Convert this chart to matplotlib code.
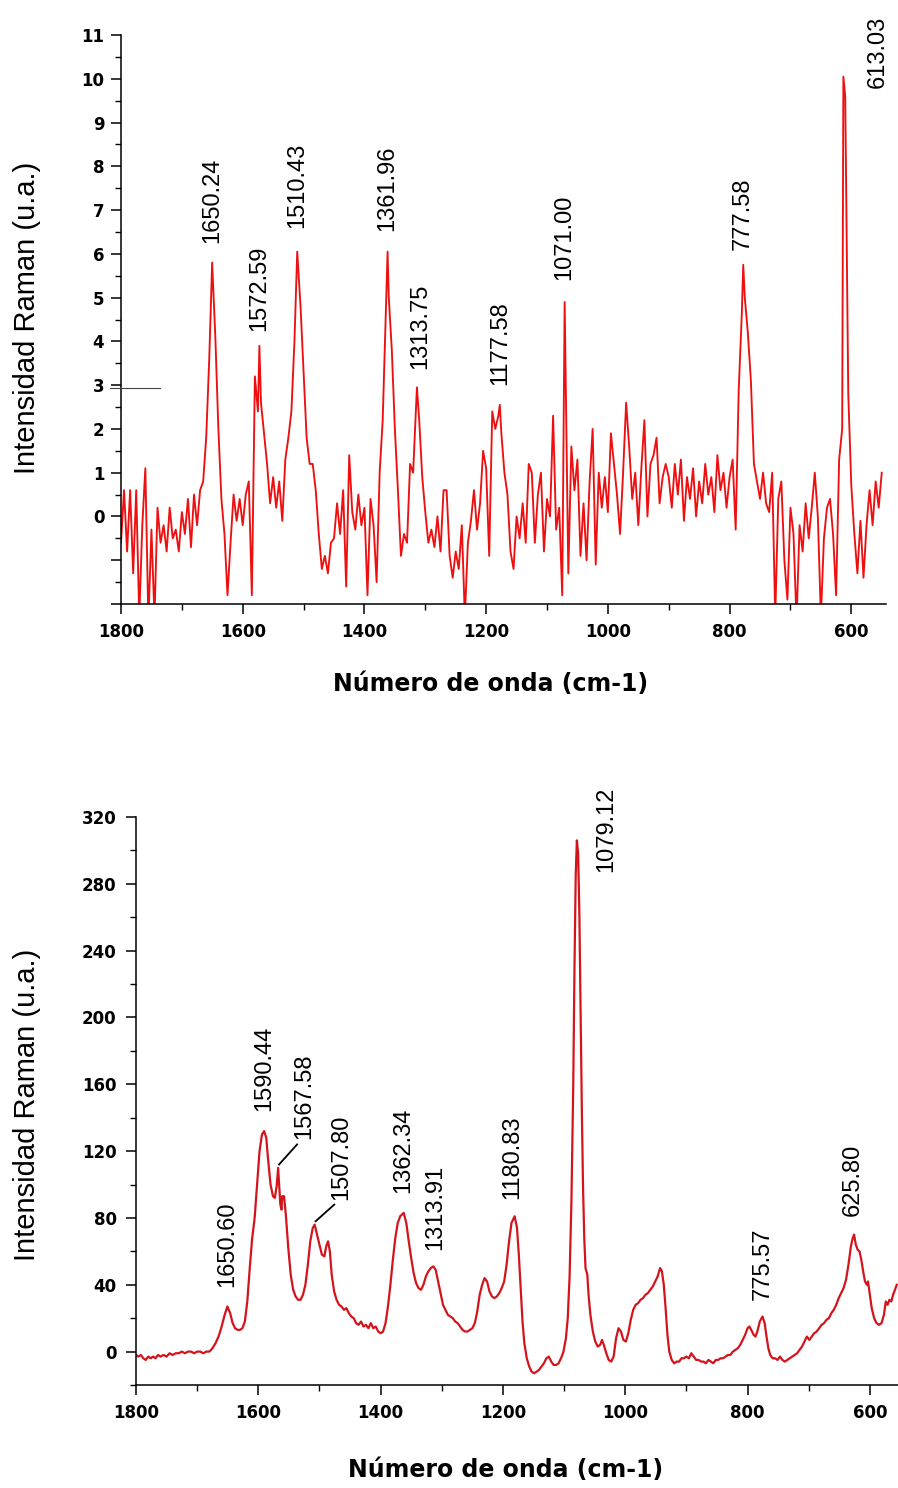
import numpy as np
import matplotlib
matplotlib.use("Agg")
import matplotlib.pyplot as plt
from matplotlib.ticker import FixedLocator, MultipleLocator, FuncFormatter
from matplotlib.lines import Line2D

# ---------------- data ----------------
# Upper spectrum: intensity sampled every 5 cm-1 from 1800 down to 550 cm-1
top_wn_start, top_wn_stop, top_wn_step = 1800, 550, 5
top_intensity = [
    -0.6, 0.6, -0.8, 0.6, -1.3, 0.6, -2.3, -0.2, 1.1, -2.4,    # 1800-1755
    -0.3, -2.3, 0.2, -0.6, -0.2, -0.8, 0.2, -0.5, -0.3, -0.8,  # 1750-1705
    0.1, -0.4, 0.4, -0.7, 0.5, -0.2, 0.6, 0.8, 1.8, 3.6,       # 1700-1655
    5.0, 4.1, 2.0, 0.4, -0.4, -1.8, -0.6, 0.5, -0.1, 0.4,      # 1650-1605
    -0.2, 0.5, 0.8, -1.8, 3.2, 2.4, 2.6, 1.9, 1.2, 0.3,        # 1600-1555
    0.9, 0.2, 0.8, -0.1, 1.3, 1.8, 2.4, 4.0, 5.5, 4.8,         # 1550-1505
    3.3, 1.8, 1.2, 1.2, 0.6, -0.4, -1.2, -0.9, -1.3, -0.6,     # 1500-1455
    -0.5, 0.3, -0.4, 0.6, -1.6, 1.4, 0.1, -0.3, 0.5, -0.2,     # 1450-1405
    0.2, -1.8, 0.4, -0.2, -1.5, 1.0, 2.2, 4.6, 5.0, 3.8,       # 1400-1355
    2.0, 0.6, -0.9, -0.4, -0.6, 1.2, 1.0, 2.5, 2.2, 0.9,       # 1350-1305
    0.1, -0.6, -0.3, -0.7, 0.0, -0.8, 0.6, 0.6, -0.9, -1.4,    # 1300-1255
    -0.8, -1.2, -0.2, -2.3, -0.6, -0.1, 0.6, -0.3, 0.3, 1.5,   # 1250-1205
    1.1, -0.9, 2.4, 2.0, 2.3, 1.9, 1.0, 0.5, -0.8, -1.2,       # 1200-1155
    0.0, -0.5, 0.3, -0.6, 1.2, 1.0, -0.6, 0.5, 1.0, -0.8,      # 1150-1105
    0.4, 0.0, 2.3, -0.3, 0.2, -1.8, 0.5, -1.3, 1.6, 0.6,       # 1100-1055
    1.3, -0.9, 0.3, -1.0, 0.8, 2.0, -1.1, 1.0, 0.2, 0.9,       # 1050-1005
    0.1, 1.9, 1.2, 0.5, -0.4, 1.0, 2.6, 1.6, 0.4, 1.0,         # 1000-955
    -0.2, 1.1, 2.2, 0.0, 1.2, 1.4, 1.8, 0.3, 0.9, 1.2,         # 950-905
    0.9, 0.2, 1.2, 0.5, 1.3, -0.1, 0.9, 0.4, 1.1, 0.0,         # 900-855
    0.8, 0.3, 1.2, 0.5, 0.9, 0.1, 1.4, 0.6, 1.0, 0.2,          # 850-805
    0.9, 1.3, -0.3, 2.9, 4.6, 5.0, 4.2, 3.1, 1.2, 0.8,         # 800-755
    0.4, 1.0, 0.3, 0.1, 1.0, -2.3, 0.4, 0.8, -1.0, -1.9,       # 750-705
    0.2, -0.4, -2.4, -0.2, -0.8, 0.3, -0.5, 0.2, 1.0, 0.0,     # 700-655
    -2.3, -0.5, 0.2, 0.4, -0.4, -1.8, 1.3, 2.0, 9.6, 2.8,      # 650-605
    0.7, -0.4, -1.3, -0.1, -1.4, -0.2, 0.6, -0.2, 0.8, 0.2,    # 600-555
    1.0,                                                       # 550
]
top_peak_wn = [1650.24, 1572.59, 1510.43, 1361.96, 1313.75, 1177.58, 1071.00, 777.58, 613.03]
top_peak_int = [5.80, 3.90, 6.05, 6.05, 2.95, 2.55, 4.90, 5.75, 10.05]

# Lower spectrum
bottom_wn = [
    1800, 1796, 1792, 1788, 1784, 1780, 1776, 1772, 1768, 1764,
    1760, 1755, 1750, 1745, 1740, 1735, 1730, 1725, 1720, 1715,
    1710, 1705, 1700, 1695, 1690, 1685, 1680, 1675, 1670, 1665,
    1660, 1655, 1646, 1642, 1638, 1634, 1630, 1626, 1622, 1618,
    1614, 1610, 1606, 1602, 1598, 1594, 1587, 1584, 1580, 1576,
    1573, 1570, 1566, 1564, 1562, 1561, 1558, 1555, 1551, 1547,
    1543, 1539, 1535, 1531, 1527, 1523, 1519, 1515, 1511, 1504,
    1500, 1496, 1492, 1489, 1486, 1483, 1480, 1476, 1472, 1468,
    1464, 1460, 1456, 1452, 1448, 1444, 1440, 1436, 1432, 1428,
    1424, 1420, 1416, 1412, 1408, 1404, 1400, 1396, 1392, 1388,
    1384, 1380, 1376, 1372, 1368, 1358, 1354, 1350, 1346, 1342,
    1338, 1334, 1330, 1326, 1322, 1318, 1310, 1306, 1302, 1298,
    1294, 1290, 1286, 1282, 1278, 1274, 1270, 1266, 1262, 1258,
    1254, 1250, 1246, 1242, 1238, 1234, 1230, 1226, 1222, 1218,
    1214, 1210, 1206, 1202, 1198, 1194, 1190, 1186, 1177, 1174,
    1171, 1168, 1165, 1161, 1157, 1153, 1149, 1145, 1141, 1137,
    1133, 1129, 1125, 1121, 1117, 1113, 1109, 1105, 1101, 1097,
    1094, 1091, 1088, 1085, 1083, 1081, 1077, 1075, 1073, 1071,
    1069, 1067, 1065, 1062, 1060, 1057, 1053, 1049, 1045, 1041,
    1038, 1035, 1031, 1027, 1023, 1019, 1015, 1011, 1007, 1003,
    999, 995, 991, 987, 983, 979, 975, 971, 967, 963,
    959, 955, 951, 947, 943, 940, 937, 934, 931, 928,
    924, 920, 916, 912, 908, 904, 900, 896, 892, 888,
    884, 880, 876, 872, 868, 864, 860, 856, 852, 848,
    844, 840, 836, 832, 828, 824, 820, 816, 812, 808,
    804, 800, 797, 794, 790, 787, 784, 780, 772, 769,
    766, 763, 759, 755, 751, 747, 743, 739, 735, 731,
    727, 723, 719, 715, 711, 707, 703, 699, 695, 691,
    687, 683, 679, 675, 671, 667, 663, 659, 655, 651,
    647, 643, 639, 635, 631, 628, 623, 620, 617, 614,
    611, 608, 605, 603, 600, 597, 593, 589, 585, 581,
    577, 574, 571, 568, 565, 562, 558, 556,
]
bottom_int = [
    -2, -3, -2, -4, -5, -3, -4, -3, -4, -2,
    -3, -2, -3, -1, -2, -1, -1, 0, -1, 0,
    0, -1, 0, 0, -1, 0, 0, 2, 5, 9,
    15, 22, 23, 17, 14, 13, 13, 14, 18, 30,
    50, 68, 80, 100, 120, 130, 128, 115, 100, 93,
    92, 99, 100, 88, 85, 93, 93, 82, 62, 46,
    37, 33, 31, 31, 34, 40, 52, 66, 74, 70,
    64, 58, 57, 63, 66, 60, 46, 36, 31, 28,
    27, 25, 26, 23, 21, 20, 17, 16, 18, 15,
    16, 14, 17, 14, 15, 12, 11, 12, 17, 27,
    40, 55, 68, 77, 81, 77, 66, 56, 47, 41,
    38, 37, 40, 45, 48, 50, 49, 42, 35, 28,
    25, 22, 21, 20, 18, 17, 15, 13, 12, 12,
    13, 14, 17, 24, 34, 40, 44, 42, 36, 33,
    32, 33, 35, 38, 42, 52, 66, 77, 74, 58,
    38, 18, 5, -4, -9, -12, -13, -12, -11, -9,
    -7, -4, -3, -6, -8, -8, -7, -4, 0, 8,
    20, 45, 90, 160, 230, 285, 298, 262, 205, 145,
    98, 68, 50, 46, 34, 22, 12, 6, 3, 4,
    7, 4, -1, -5, -6, -3, 8, 14, 12, 7,
    6, 11, 19, 25, 28, 29, 31, 32, 34, 35,
    37, 39, 42, 45, 50, 48, 40, 26, 10, 0,
    -5, -7, -6, -6, -4, -4, -3, -4, -1, -3,
    -5, -5, -6, -6, -7, -5, -6, -7, -5, -5,
    -4, -4, -3, -2, -2, 0, 1, 2, 4, 7,
    10, 14, 15, 13, 10, 9, 12, 18, 17, 9,
    2, -2, -4, -4, -5, -3, -5, -6, -5, -4,
    -3, -2, -1, 1, 3, 6, 9, 7, 9, 11,
    12, 14, 16, 17, 19, 20, 23, 25, 28, 32,
    35, 38, 43, 52, 63, 68, 64, 61, 60, 55,
    48, 42, 40, 42, 34, 26, 20, 17, 16, 17,
    22, 30, 28, 31, 30, 34, 38, 40,
]
bottom_peak_wn = [1650.60, 1590.44, 1567.58, 1507.80, 1362.34, 1313.91, 1180.83, 1079.12, 775.57, 625.80]
bottom_peak_int = [27, 132, 110, 76, 83, 51, 81, 306, 21, 70]

# ---------------- label layout (shift in cm-1, gap above the peak) ----------------
top_label_dx = [0, 0, 0, 0, -5, 0, 0, 0, -57]
top_label_gap = [0.45, 0.33, 0.55, 0.48, 0.41, 0.45, 0.50, 0.34, -0.25]
bottom_label_dx = [0, 0, -42, -43, 0, -3, 4, -48, 0, 2]
bottom_label_gap = [11.5, 12, 17, 15, 12, 10, 10.5, -19, 10, 11]
bottom_leaders = [False, False, True, True, False, False, False, False, False, False]


def merge_peaks(wn, inten, pk_wn, pk_int, gap):
    wn = np.asarray(wn, float)
    inten = np.asarray(inten, float)
    pk_wn = np.asarray(pk_wn, float)
    pk_int = np.asarray(pk_int, float)
    far = np.all(np.abs(wn[:, None] - pk_wn[None, :]) > gap, axis=1)
    x = np.concatenate([wn[far], pk_wn])
    y = np.concatenate([inten[far], pk_int])
    order = np.argsort(-x)
    return x[order], y[order]


top_grid = np.arange(top_wn_start, top_wn_stop - 1, -top_wn_step)
top_x, top_y = merge_peaks(top_grid, top_intensity, top_peak_wn, top_peak_int, 1.5)
bot_x, bot_y = merge_peaks(bottom_wn, bottom_int, bottom_peak_wn, bottom_peak_int, 0.5)

# ---------------- figure ----------------
W, H = 898, 1488
fig = plt.figure(figsize=(W / 100, H / 100), dpi=100)
fig.patch.set_facecolor("white")

ax1 = fig.add_axes([121 / W, 1 - 604 / H, (886 - 121) / W, (604 - 35) / H])
ax2 = fig.add_axes([136 / W, 1 - 1385 / H, (898 - 136) / W, (1385 - 817) / H])

tick_font = dict(family="DejaVu Sans", weight="bold", size=12)
peak_font = dict(family="Liberation Sans", size=17)

for ax in (ax1, ax2):
    for side in ("top", "right"):
        ax.spines[side].set_visible(False)
    for side in ("left", "bottom"):
        ax.spines[side].set_linewidth(1.1)
    ax.set_facecolor("white")
    ax.xaxis.set_major_locator(MultipleLocator(200))
    ax.xaxis.set_minor_locator(MultipleLocator(100))
    ax.tick_params(which="major", direction="out", length=7, width=1.1)
    ax.tick_params(which="minor", direction="out", length=4, width=1.0)
    ax.tick_params(axis="x", which="major", pad=7)

# upper panel
ax1.plot(top_x, top_y, color="#ee1010", lw=1.35)
ax1.set_xlim(1800, 543)
ax1.set_ylim(-2, 11)
ax1.yaxis.set_major_locator(FixedLocator(np.arange(-2, 12)))
ax1.yaxis.set_minor_locator(MultipleLocator(0.5))
ax1.yaxis.set_major_formatter(FuncFormatter(lambda v, p: "" if v < 0 else f"{v:.0f}"))
ax1.tick_params(axis="y", which="major", pad=5)

for wn, val, dx, gap in zip(top_peak_wn, top_peak_int, top_label_dx, top_label_gap):
    ax1.text(wn + dx, val + gap, f"{wn:.2f}", rotation=90, ha="center", va="bottom",
             **peak_font)

# short stray rule at the 3 mark
fig.add_artist(Line2D([110 / W, 160 / W], [1 - 388 / H, 1 - 388 / H],
                      transform=fig.transFigure, color="#444444", lw=0.8))

# lower panel
ax2.plot(bot_x, bot_y, color="#d4141c", lw=1.6)
ax2.set_xlim(1800, 554)
ax2.set_ylim(-20, 320)
ax2.yaxis.set_major_locator(FixedLocator(np.arange(0, 321, 40)))
ax2.yaxis.set_minor_locator(FixedLocator(np.arange(-20, 321, 20)))
ax2.tick_params(axis="y", which="major", pad=7)

for wn, val, dx, gap, lead in zip(bottom_peak_wn, bottom_peak_int, bottom_label_dx,
                                  bottom_label_gap, bottom_leaders):
    lx, ly = wn + dx, val + gap
    ax2.text(lx, ly, f"{wn:.2f}", rotation=90, ha="center", va="bottom", **peak_font)
    if lead:
        ax2.plot([wn - 1.5, lx + 11], [val + 2, ly - 3], color="black", lw=1.3)

for ax in (ax1, ax2):
    for lab in ax.get_xticklabels() + ax.get_yticklabels():
        lab.set_fontfamily(tick_font["family"])
        lab.set_fontweight(tick_font["weight"])
        lab.set_fontsize(tick_font["size"])

# axis titles
ylab_font = dict(family="Liberation Sans", size=21)
xlab_font = dict(family="DejaVu Sans", weight="bold", size=17)
fig.text(27 / W, 1 - 318 / H, "Intensidad Raman (u.a.)", rotation=90,
         ha="center", va="center", **ylab_font)
fig.text(27 / W, 1 - 1105 / H, "Intensidad Raman (u.a.)", rotation=90,
         ha="center", va="center", **ylab_font)
fig.text(491 / W, 1 - 684 / H, "Número de onda (cm-1)", ha="center", va="center",
         **xlab_font)
fig.text(506 / W, 1 - 1470 / H, "Número de onda (cm-1)", ha="center", va="center",
         **xlab_font)

fig.savefig("out.png", dpi=100, facecolor="white")
